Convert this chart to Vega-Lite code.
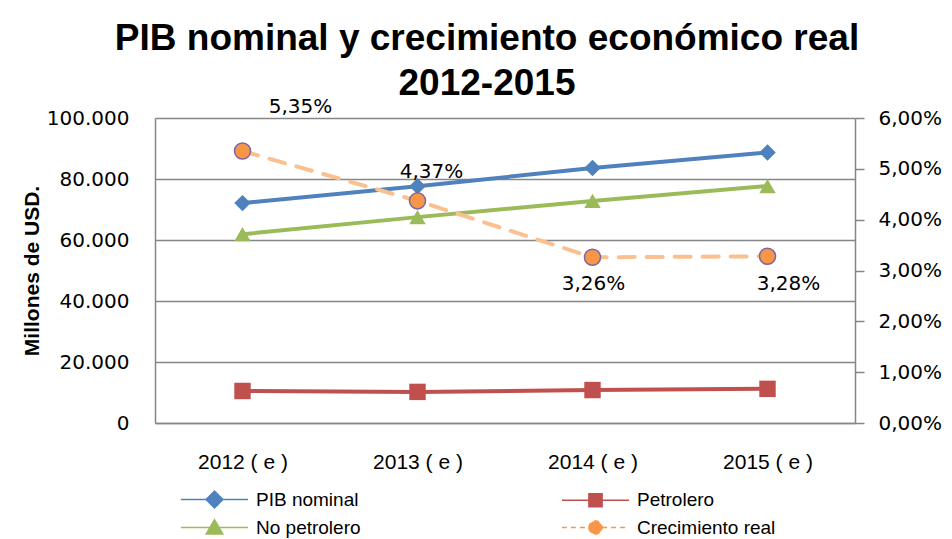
{
  "$schema": "https://vega.github.io/schema/vega-lite/v6.json",
  "autosize": "none",
  "width": 700,
  "height": 305,
  "padding": {"left": 155, "top": 118, "right": 97, "bottom": 116},
  "background": "white",
  "config": {
    "locale": {"number": {"decimal": ",", "thousands": ".", "grouping": [3], "currency": ["", ""]}},
    "view": {"stroke": null}
  },
  "title": {
    "text": ["PIB nominal  y crecimiento económico real", "2012-2015"],
    "font": "Liberation Sans",
    "fontSize": 37,
    "fontWeight": "bold",
    "color": "black",
    "anchor": "middle",
    "dx": -18,
    "dy": 57,
    "baseline": "bottom",
    "lineHeight": 45,
    "offset": 14
  },
  "datasets": {
    "gdp": [
      {"year": "2012 ( e )", "serie": "PIB nominal", "value": 72100},
      {"year": "2013 ( e )", "serie": "PIB nominal", "value": 77600},
      {"year": "2014 ( e )", "serie": "PIB nominal", "value": 83600},
      {"year": "2015 ( e )", "serie": "PIB nominal", "value": 88700},
      {"year": "2012 ( e )", "serie": "Petrolero", "value": 10500},
      {"year": "2013 ( e )", "serie": "Petrolero", "value": 10200},
      {"year": "2014 ( e )", "serie": "Petrolero", "value": 10800},
      {"year": "2015 ( e )", "serie": "Petrolero", "value": 11200},
      {"year": "2012 ( e )", "serie": "No petrolero", "value": 61900},
      {"year": "2013 ( e )", "serie": "No petrolero", "value": 67500},
      {"year": "2014 ( e )", "serie": "No petrolero", "value": 72800},
      {"year": "2015 ( e )", "serie": "No petrolero", "value": 77700}
    ],
    "growth": [
      {"year": "2012 ( e )", "serie": "Crecimiento real", "value": 0.0535},
      {"year": "2013 ( e )", "serie": "Crecimiento real", "value": 0.0437},
      {"year": "2014 ( e )", "serie": "Crecimiento real", "value": 0.0326},
      {"year": "2015 ( e )", "serie": "Crecimiento real", "value": 0.0328}
    ]
  },
  "encoding": {
    "x": {
      "field": "year",
      "type": "nominal",
      "sort": null,
      "scale": {"type": "point", "padding": 0.5},
      "axis": {
        "title": null,
        "labelAngle": 0,
        "ticks": false,
        "labelPadding": 28,
        "labelFont": "Liberation Sans",
        "labelFontSize": 21,
        "labelColor": "black",
        "domainColor": "#868686",
        "domainWidth": 1.5,
        "grid": false
      }
    }
  },
  "layer": [
    {
      "data": {"name": "gdp"},
      "encoding": {
        "y": {
          "field": "value",
          "type": "quantitative",
          "scale": {"domain": [0, 100000], "nice": false, "zero": true},
          "axis": {
            "orient": "left",
            "title": "Millones de USD.",
            "titleFont": "Liberation Sans",
            "titleFontSize": 21,
            "titleFontWeight": "bold",
            "titleColor": "black",
            "titlePadding": 4,
            "format": ",d",
            "values": [0, 20000, 40000, 60000, 80000, 100000],
            "labelFont": "DejaVu Sans",
            "labelFontSize": 20,
            "labelColor": "black",
            "labelPadding": 26,
            "ticks": false,
            "grid": true,
            "gridColor": "#868686",
            "gridWidth": 1.5,
            "domainColor": "#868686",
            "domainWidth": 1.5
          }
        }
      },
      "layer": [
        {
          "mark": {"type": "line", "strokeWidth": 4},
          "encoding": {
            "color": {
              "field": "serie",
              "type": "nominal",
              "scale": {
                "domain": ["PIB nominal", "Petrolero", "No petrolero", "Crecimiento real"],
                "range": ["#4F81BD", "#C0504D", "#9BBB59", "#F79646"]
              },
              "legend": {
                "orient": "none",
                "legendX": 50,
                "legendY": 372,
                "direction": "horizontal",
                "columns": 2,
                "title": null,
                "symbolSize": 144,
                "labelOffset": 32,
                "labelFont": "Liberation Sans",
                "labelFontSize": 19,
                "labelColor": "black",
                "columnPadding": 163,
                "rowPadding": 5,
                "gridAlign": "all",
                "labelLimit": 300,
                "symbolStrokeWidth": 1.5,
                "encode": {
                  "symbols": {
                    "update": {
                      "shape": {"signal": "datum.value === 'PIB nominal' ? 'M-5.6,0H5.6M-1.4,0L0,-1.4L1.4,0L0,1.4Z' : datum.value === 'Petrolero' ? 'M-5.6,0H5.6M-1.1,-1.1H1.1V1.1H-1.1Z' : datum.value === 'No petrolero' ? 'M-5.6,0H5.6M0,-1.3L1.4,1.1H-1.4Z' : 'M-5.6,0H-1.1M1.1,0H5.6M-1.1,0A1.1,1.1,0,1,1,1.1,0A1.1,1.1,0,1,1,-1.1,0Z'"},
                      "fill": {"signal": "datum.value === 'PIB nominal' ? '#4F81BD' : datum.value === 'Petrolero' ? '#C0504D' : datum.value === 'No petrolero' ? '#9BBB59' : '#F79646'"},
                      "stroke": {"signal": "datum.value === 'PIB nominal' ? '#4F81BD' : datum.value === 'Petrolero' ? '#C0504D' : datum.value === 'No petrolero' ? '#9BBB59' : '#FAC090'"},
                      "strokeDash": {"signal": "datum.value === 'Crecimiento real' ? [5, 4] : [1, 0]"},
                      "strokeWidth": {"value": 1.5},
                      "opacity": {"value": 1},
                      "fillOpacity": {"value": 1}
                    }
                  }
                }
              }
            }
          }
        },
        {
          "mark": {"type": "point", "filled": true, "opacity": 1, "size": 270},
          "encoding": {
            "color": {"field": "serie", "type": "nominal"},
            "shape": {
              "field": "serie",
              "type": "nominal",
              "scale": {
                "domain": ["PIB nominal", "Petrolero", "No petrolero"],
                "range": ["diamond", "square", "triangle-up"]
              },
              "legend": null
            }
          }
        }
      ]
    },
    {
      "data": {"name": "growth"},
      "encoding": {
        "y": {
          "field": "value",
          "type": "quantitative",
          "scale": {"domain": [0, 0.06], "nice": false, "zero": true},
          "axis": {
            "orient": "right",
            "title": null,
            "format": ".2%",
            "values": [0, 0.01, 0.02, 0.03, 0.04, 0.05, 0.06],
            "labelFont": "DejaVu Sans",
            "labelFontSize": 20,
            "labelColor": "black",
            "labelPadding": 14,
            "tickSize": 9,
            "tickColor": "#868686",
            "tickWidth": 1.5,
            "grid": false,
            "domainColor": "#868686",
            "domainWidth": 1.5
          }
        }
      },
      "layer": [
        {
          "mark": {"type": "line", "strokeWidth": 4, "strokeDash": [16, 12], "strokeCap": "round", "color": "#FAC090"},
          "encoding": {}
        },
        {
          "mark": {"type": "point", "filled": true, "shape": "circle", "size": 260, "fill": "#F79646", "stroke": "#8064A2", "strokeWidth": 1.5, "opacity": 1},
          "encoding": {"color": {"field": "serie", "type": "nominal"}}
        },
        {
          "transform": [{"filter": "datum.year === '2012 ( e )'"}],
          "mark": {"type": "text", "font": "DejaVu Sans", "fontSize": 20, "color": "black", "dx": 58, "dy": -44},
          "encoding": {"text": {"field": "value", "type": "quantitative", "format": ".2%"}}
        },
        {
          "transform": [{"filter": "datum.year === '2013 ( e )'"}],
          "mark": {"type": "text", "font": "DejaVu Sans", "fontSize": 20, "color": "black", "dx": 14, "dy": -29},
          "encoding": {"text": {"field": "value", "type": "quantitative", "format": ".2%"}}
        },
        {
          "transform": [{"filter": "datum.year === '2014 ( e )'"}],
          "mark": {"type": "text", "font": "DejaVu Sans", "fontSize": 20, "color": "black", "dx": 1, "dy": 27},
          "encoding": {"text": {"field": "value", "type": "quantitative", "format": ".2%"}}
        },
        {
          "transform": [{"filter": "datum.year === '2015 ( e )'"}],
          "mark": {"type": "text", "font": "DejaVu Sans", "fontSize": 20, "color": "black", "dx": 21, "dy": 28},
          "encoding": {"text": {"field": "value", "type": "quantitative", "format": ".2%"}}
        }
      ]
    }
  ],
  "resolve": {"scale": {"y": "independent"}}
}
